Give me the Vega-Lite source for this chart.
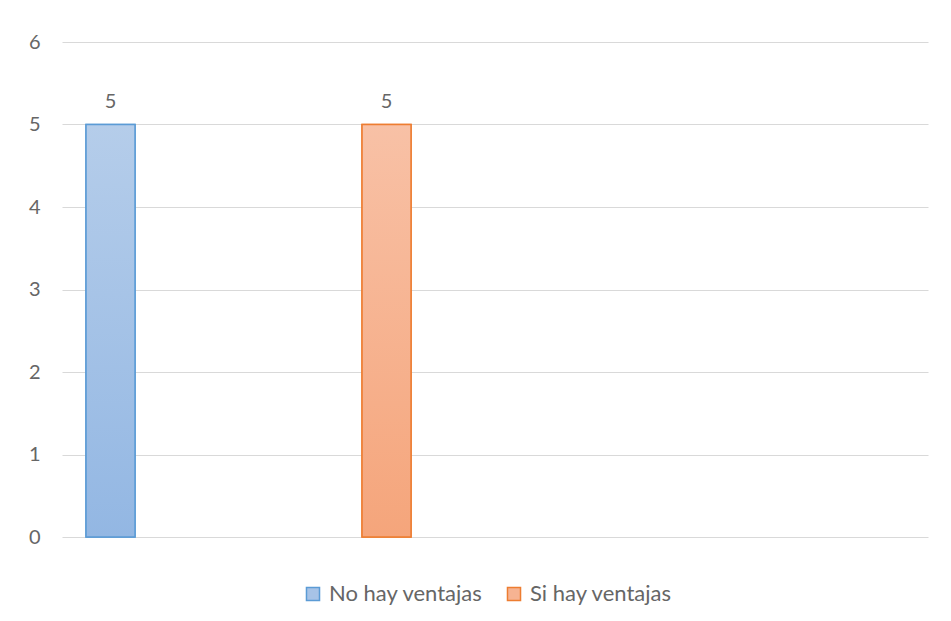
{
  "$schema": "https://vega.github.io/schema/vega-lite/v6.json",
  "autosize": {"type": "none"},
  "width": 866,
  "height": 495,
  "padding": {"left": 62, "top": 42, "right": 23, "bottom": 84},
  "background": "white",
  "config": {
    "view": {"stroke": null},
    "font": "Lato",
    "axis": {"labelFont": "Lato", "labelColor": "#666666"},
    "legend": {"labelFont": "Lato", "labelColor": "#666666"}
  },
  "data": {
    "values": [
      {"serie": "No hay ventajas", "valor": 5},
      {"serie": "Si hay ventajas", "valor": 5}
    ]
  },
  "encoding": {
    "x": {
      "field": "serie",
      "type": "nominal",
      "scale": {"paddingInner": 0.8225, "paddingOuter": 0.98, "align": 0.0444},
      "axis": null
    },
    "y": {
      "field": "valor",
      "type": "quantitative",
      "scale": {"domain": [0, 6], "nice": false},
      "axis": {
        "values": [0, 1, 2, 3, 4, 5, 6],
        "title": null,
        "domain": false,
        "ticks": false,
        "labelPadding": 22,
        "labelFontSize": 20,
        "gridColor": "#d9d9d9",
        "gridWidth": 1
      }
    }
  },
  "layer": [
    {
      "mark": {"type": "bar", "strokeWidth": 1.5},
      "encoding": {
        "fill": {
          "field": "serie",
          "type": "nominal",
          "scale": {"domain": ["No hay ventajas", "Si hay ventajas"], "range": ["#a7c3e7", "#f6b392"]},
          "legend": {
            "title": null,
            "orient": "none",
            "direction": "horizontal",
            "legendX": 240,
            "legendY": 541,
            "symbolType": "square",
            "symbolSize": 170,
            "symbolStrokeWidth": 1.5,
            "labelFontSize": 22,
            "columnPadding": 20,
            "labelOffset": 5
          }
        },
        "stroke": {
          "field": "serie",
          "type": "nominal",
          "scale": {"domain": ["No hay ventajas", "Si hay ventajas"], "range": ["#5b9bd5", "#ed7d31"]},
          "legend": {
            "title": null,
            "orient": "none",
            "direction": "horizontal",
            "legendX": 240,
            "legendY": 541,
            "symbolType": "square",
            "symbolSize": 170,
            "symbolStrokeWidth": 1.5,
            "labelFontSize": 22,
            "columnPadding": 20,
            "labelOffset": 5
          }
        }
      }
    },
    {
      "transform": [{"filter": "datum.serie === 'No hay ventajas'"}],
      "mark": {
        "type": "bar",
        "strokeWidth": 1.5,
        "stroke": "#5b9bd5",
        "fill": {
          "gradient": "linear",
          "x1": 0, "y1": 0, "x2": 0, "y2": 1,
          "stops": [{"offset": 0, "color": "#b5cdea"}, {"offset": 1, "color": "#93b7e3"}]
        }
      }
    },
    {
      "transform": [{"filter": "datum.serie === 'Si hay ventajas'"}],
      "mark": {
        "type": "bar",
        "strokeWidth": 1.5,
        "stroke": "#ed7d31",
        "fill": {
          "gradient": "linear",
          "x1": 0, "y1": 0, "x2": 0, "y2": 1,
          "stops": [{"offset": 0, "color": "#f8c1a6"}, {"offset": 1, "color": "#f5a57b"}]
        }
      }
    },
    {
      "mark": {"type": "text", "fontSize": 20, "color": "#666666", "dy": -17, "baseline": "alphabetic", "font": "Lato"},
      "encoding": {"text": {"field": "valor", "type": "quantitative"}}
    }
  ]
}
